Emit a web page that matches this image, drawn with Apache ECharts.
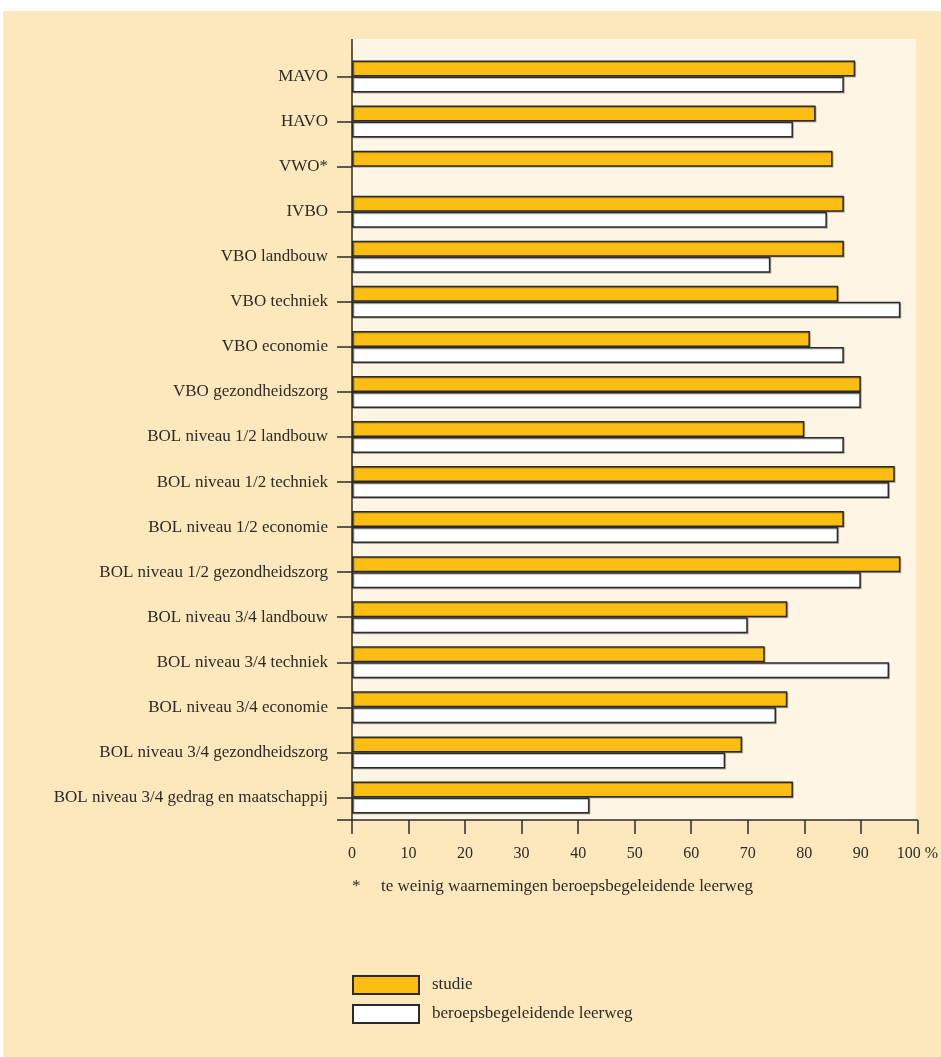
<!DOCTYPE html>
<html>
<head>
<meta charset="utf-8">
<script src="https://cdn.jsdelivr.net/npm/echarts@6/dist/echarts.min.js"></script>
<style>html,body{margin:0;padding:0;background:#fff;}#c{width:941px;height:1057px;}</style>
</head>
<body>
<div id="c"></div>
<script>
var categories = ['MAVO','HAVO','VWO*','IVBO','VBO landbouw','VBO techniek','VBO economie','VBO gezondheidszorg',
  'BOL niveau 1/2 landbouw','BOL niveau 1/2 techniek','BOL niveau 1/2 economie','BOL niveau 1/2 gezondheidszorg',
  'BOL niveau 3/4 landbouw','BOL niveau 3/4 techniek','BOL niveau 3/4 economie','BOL niveau 3/4 gezondheidszorg',
  'BOL niveau 3/4 gedrag en maatschappij'];
var studie =   [89,82,85,87,87,86,81,90,80,96,87,97,77,73,77,69,78];
var beroeps =  [87,78,null,84,74,97,87,90,87,95,86,90,70,95,75,66,42];
var xTicks = [0,10,20,30,40,50,60,70,80,90,100];
var seriesNames = ['studie','beroepsbegeleidende leerweg'];
var footnote = 'te weinig waarnemingen beroepsbegeleidende leerweg';

var chart = echarts.init(document.getElementById('c'));
var font = 'Liberation Serif';
var txt = '#2e2a26';
var barStyle = function(c){ return {color:c, borderColor:'#2b2b2b', borderWidth:1.5,
  shadowColor:'rgba(0,0,0,0.25)', shadowOffsetX:1, shadowOffsetY:1, shadowBlur:0}; };
chart.setOption({
  backgroundColor:'#ffffff',
  animation:false,
  textStyle:{fontFamily:font},
  graphic:[
    {type:'rect', z:-100, silent:true, shape:{x:3,y:11,width:938,height:1046}, style:{fill:'#FDE7BC'}},
    {type:'rect', z:-99, silent:true, shape:{x:352,y:39,width:564,height:781}, style:{fill:'#FEF5E4'}},
    {type:'line', z:10, silent:true, shape:{x1:352,y1:39,x2:352,y2:54}, style:{stroke:'#2b2b2b',lineWidth:1.5}},
    {type:'line', z:10, silent:true, shape:{x1:337,y1:820,x2:352,y2:820}, style:{stroke:'#2b2b2b',lineWidth:1.5}},
    {type:'text', z:10, silent:true, style:{x:352,y:887,text:'*',font:'17px "Liberation Serif"',fill:txt,verticalAlign:'middle'}},
    {type:'text', z:10, silent:true, style:{x:381,y:887,text:footnote,font:'17px "Liberation Serif"',fill:txt,verticalAlign:'middle'}}
  ],
  legend:{
    orient:'vertical', left:352, top:975, padding:0, itemWidth:66, itemHeight:18, itemGap:9,
    icon:'rect', textStyle:{fontFamily:font, fontSize:17, color:txt, padding:[0,0,0,8]},
    data:seriesNames
  },
  grid:{left:352, right:23, top:54, bottom:237, containLabel:false},
  xAxis:{
    type:'value', min:0, max:100, interval:10,
    axisLine:{show:true, lineStyle:{color:'#2b2b2b', width:1.5}},
    axisTick:{show:true, length:14, lineStyle:{color:'#2b2b2b', width:1.5}},
    splitLine:{show:false},
    axisLabel:{margin:26, fontFamily:font, fontSize:16, color:txt,
      formatter:function(v){ return v===100 ? '100 %' : String(v); }}
  },
  yAxis:{
    type:'category', data:categories, inverse:true,
    axisLine:{show:true, lineStyle:{color:'#2b2b2b', width:1.5}},
    axisTick:{show:true, alignWithLabel:true, length:15, lineStyle:{color:'#2b2b2b', width:1.5}},
    axisLabel:{margin:24, fontFamily:font, fontSize:17, color:txt}
  },
  series:[
    {name:seriesNames[0], type:'bar', data:studie, barWidth:16, barGap:'0%', itemStyle:barStyle('#FCBE12')},
    {name:seriesNames[1], type:'bar', data:beroeps, barWidth:16, barGap:'0%', itemStyle:barStyle('#FFFFFF')}
  ]
});
</script>
</body>
</html>
